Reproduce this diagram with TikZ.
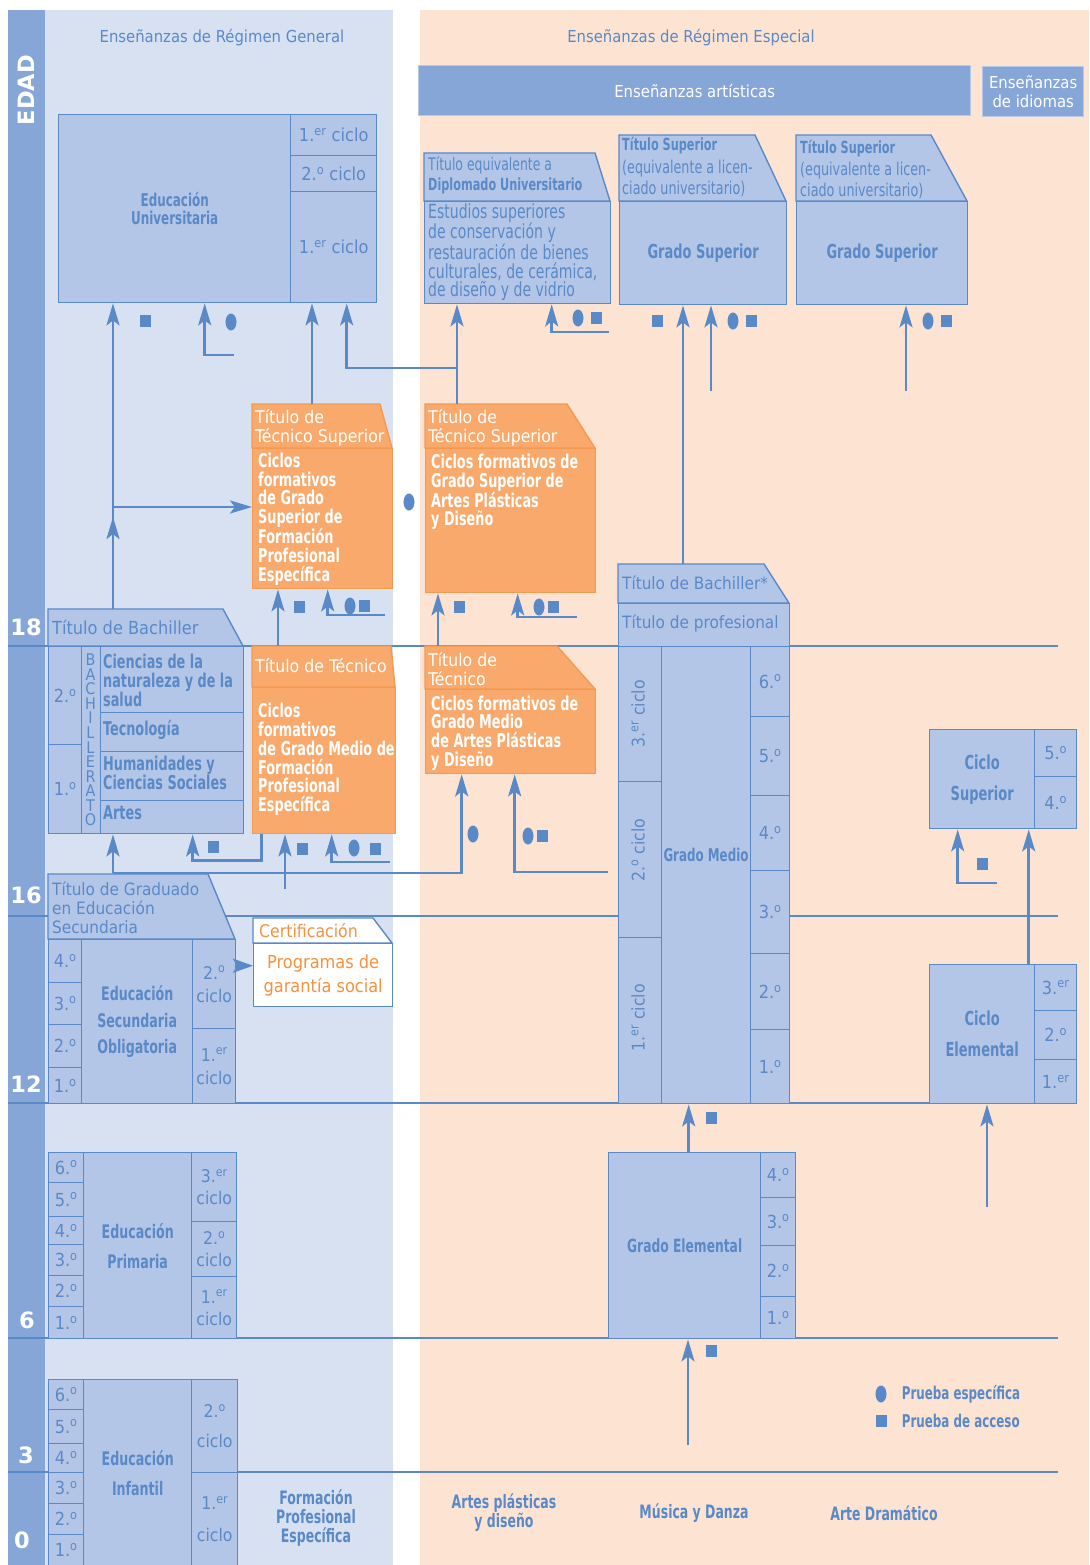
\documentclass[tikz,border=0pt]{standalone}
\usepackage{fontspec}
\setmainfont{DejaVu Sans Condensed}
\newfontfamily\narrowfont[FakeStretch=0.8]{DejaVu Sans Condensed}
\newfontfamily\boldnarrow[FakeStretch=0.75]{DejaVu Sans Condensed Bold}
\newfontfamily\agefont{DejaVu Sans Bold}
\usepackage{xcolor}
\usepackage{tikz}
\usetikzlibrary{shapes.geometric, arrows.meta, positioning}

\definecolor{lineblue}{HTML}{5A89C8}
\definecolor{boxblue}{HTML}{B4C6E7}
\definecolor{genbg}{HTML}{D7E1F1}
\definecolor{espbg}{HTML}{FDE4D2}
\definecolor{edadblue}{HTML}{86A6D7}
\definecolor{orangebox}{HTML}{F8A96B}
\definecolor{orangeline}{HTML}{F39A52}
\definecolor{orangetext}{HTML}{F5923F}

\newcommand{\ordo}{\textsuperscript{o}}

\begin{document}
\begin{tikzpicture}[x=1pt, y=-1pt]
        \tikzstyle{boxcell} = [rectangle, draw=lineblue, fill=boxblue, line width=1.4pt, inner sep=0pt, anchor=north west, text=lineblue, align=center, font=\fontsize{18}{21}\selectfont]
        \tikzstyle{boldcell} = [boxcell, font=\boldnarrow\fontsize{18.5}{19}\selectfont]
        \tikzstyle{tabshape} = [draw=lineblue, fill=boxblue, line width=1.4pt]
        \tikzstyle{orangetab} = [draw=orangeline, fill=orangebox, line width=1.4pt]
        \tikzstyle{orangecell} = [rectangle, draw=orangeline, fill=orangebox, line width=1.4pt, inner sep=0pt, anchor=north west]
        \tikzstyle{txt} = [inner sep=0pt, anchor=west, align=left, text=lineblue, font=\fontsize{17}{19}\selectfont]
        \tikzstyle{boldtxt} = [inner sep=0pt, align=center, text=lineblue, font=\boldnarrow\fontsize{18.5}{19}\selectfont]
        \tikzstyle{boldleft} = [boldtxt, anchor=west, align=left, font=\boldnarrow\fontsize{19}{19}\selectfont]
        \tikzstyle{whitetxt} = [inner sep=0pt, anchor=west, align=left, text=white, font=\fontsize{17.5}{19}\selectfont]
        \tikzstyle{whitebold} = [inner sep=0pt, anchor=west, align=left, text=white, font=\boldnarrow\fontsize{19}{18.7}\selectfont]
        \tikzstyle{regiontitle} = [inner sep=0pt, text=lineblue, font=\fontsize{16.5}{19}\selectfont]
        \tikzstyle{headbox} = [boxcell, fill=edadblue, draw=edadblue!60!white, text=white, font=\fontsize{16.5}{19}\selectfont]
        \tikzstyle{agetxt} = [inner sep=0pt, text=white, font=\agefont\fontsize{22.5}{24}\selectfont]
        \tikzstyle{vert} = [inner sep=0pt, rotate=90, text=lineblue, font=\fontsize{17.5}{19}\selectfont]
        \tikzstyle{letters} = [inner sep=0pt, align=center, text=lineblue, font=\fontsize{16}{14.55}\selectfont]
        \tikzstyle{ageline} = [line width=1.2pt, draw=lineblue]
        \tikzstyle{link} = [line width=2.6pt, draw=lineblue]
        \tikzstyle{arrow} = [link, -{Stealth[length=22pt, width=13pt, inset=5pt]}]
        \tikzstyle{esp} = [ellipse, fill=lineblue, minimum width=11, minimum height=17, inner sep=0pt]
        \tikzstyle{acc} = [rectangle, fill=lineblue, minimum width=11, minimum height=12, inner sep=0pt]

        \useasboundingbox (0,0) rectangle (1089,1565);

        % fondos
        \fill[edadblue] (8,10) rectangle (45,1565);
        \fill[genbg] (45,10) rectangle (393,1565);
        \fill[espbg] (420,10) rectangle (1089,1565);

        % lineas de edad
        \draw[ageline] (8,646) -- (1058,646);
        \draw[ageline] (8,916) -- (1058,916);
        \draw[ageline] (8,1103) -- (1058,1103);
        \draw[ageline] (8,1338) -- (1058,1338);
        \draw[ageline] (8,1472) -- (1058,1472);

        \node[agetxt, rotate=90] (edad) at (26,90) {EDAD};
        \node[agetxt] (a18) at (26,627) {18};
        \node[agetxt] (a16) at (26,895) {16};
        \node[agetxt] (a12) at (26,1084) {12};
        \node[agetxt] (a6) at (27,1320) {6};
        \node[agetxt] (a3) at (26,1455) {3};
        \node[agetxt] (a0) at (22,1540) {0};

        \node[regiontitle] (tgen) at (222,38) {Enseñanzas de Régimen General};
        \node[regiontitle] (tesp) at (691,38) {Enseñanzas de Régimen Especial};
        \node[headbox, minimum width=552, minimum height=50] (artis) at (418,65) {Enseñanzas artísticas};
        \node[headbox, minimum width=101, minimum height=50] (idiom) at (982,66) {Enseñanzas\\de idiomas};

        % universidad
        \node[boldcell, minimum width=232, minimum height=188, font=\boldnarrow\fontsize{17.7}{18}\selectfont] (univ) at (58,114) {Educación\\Universitaria};
        \node[boxcell, minimum width=86, minimum height=41] (u1) at (290,114) {1.\textsuperscript{er} ciclo};
        \node[boxcell, minimum width=86, minimum height=36] (u2) at (290,155) {2.\ordo{} ciclo};
        \node[boxcell, minimum width=86, minimum height=111] (u3) at (290,191) {1.\textsuperscript{er} ciclo};

        % titulo equivalente
        \draw[tabshape] (424,153) -- (595,153) -- (610,201) -- (424,201) -- cycle;
        \node[boxcell, minimum width=186, minimum height=102] (tequiv) at (424,201) {};
        \node[txt, font=\narrowfont\fontsize{17.3}{19}\selectfont] (teq1) at (428,165) {Título equivalente a};
        \node[txt, font=\boldnarrow\fontsize{16.7}{19}\selectfont] (teq2) at (428,186) {Diplomado Universitario};
        \node[txt, font=\narrowfont\fontsize{19.5}{18.7}\selectfont] (teq3) at (428,252) {Estudios superiores\\de conservación y\\restauración de bienes\\culturales, de cerámica,\\de diseño y de vidrio};

        % titulos superiores
        \draw[tabshape] (619,135) -- (755,135) -- (786,201) -- (619,201) -- cycle;
        \node[boldcell, minimum width=167, minimum height=103, font=\boldnarrow\fontsize{19.2}{20}\selectfont] (tsup1) at (619,201) {Grado Superior};
        \node[txt, font=\boldnarrow\fontsize{16.7}{19}\selectfont] (ts1a) at (622,146) {Título Superior};
        \node[txt, font=\narrowfont\fontsize{17.7}{21}\selectfont] (ts1b) at (622,178.5) {(equivalente a licen-\\ciado universitario)};
        \draw[tabshape] (796,135) -- (931,135) -- (967,201) -- (796,201) -- cycle;
        \node[boldcell, minimum width=171, minimum height=103, font=\boldnarrow\fontsize{19.2}{20}\selectfont] (tsup2) at (796,201) {Grado Superior};
        \node[txt, font=\boldnarrow\fontsize{16.7}{19}\selectfont] (ts2a) at (800,149) {Título Superior};
        \node[txt, font=\narrowfont\fontsize{17.7}{21}\selectfont] (ts2b) at (800,180.5) {(equivalente a licen-\\ciado universitario)};

        % ciclos formativos de grado superior
        \draw[orangetab] (252,404) -- (380,404) -- (392,448) -- (252,448) -- cycle;
        \node[orangecell, minimum width=140, minimum height=140] (fp1) at (252,448) {};
        \node[whitetxt] (fp1a) at (255,427.5) {Título de\\Técnico Superior};
        \node[whitebold] (fp1b) at (258,519) {Ciclos\\formativos\\de Grado\\Superior de\\Formación\\Profesional\\Específica};
        \draw[orangetab] (425,404) -- (567,404) -- (595,448) -- (425,448) -- cycle;
        \node[orangecell, minimum width=170, minimum height=144] (fp2) at (425,448) {};
        \node[whitetxt] (fp2a) at (428,427.5) {Título de\\Técnico Superior};
        \node[whitebold] (fp2b) at (431,492) {Ciclos formativos de\\Grado Superior de\\Artes Plásticas\\y Diseño};

        % ciclos formativos de grado medio
        \draw[orangetab] (252,646) -- (391,646) -- (395,687) -- (252,687) -- cycle;
        \node[orangecell, minimum width=143, minimum height=146] (tec1) at (252,687) {};
        \node[whitetxt] (tec1a) at (255,666) {Título de Técnico};
        \node[whitebold] (tec1b) at (258,759.5) {Ciclos\\formativos\\de Grado Medio de\\Formación\\Profesional\\Específica};
        \draw[orangetab] (425,646) -- (557,646) -- (595,689) -- (425,689) -- cycle;
        \node[orangecell, minimum width=170, minimum height=84] (tec2) at (425,689) {};
        \node[whitetxt] (tec2a) at (428,669) {Título de\\Técnico};
        \node[whitebold] (tec2b) at (431,733) {Ciclos formativos de\\Grado Medio\\de Artes Plásticas\\y Diseño};

        % bachillerato
        \draw[tabshape] (48,609) -- (223,609) -- (243,646) -- (48,646) -- cycle;
        \node[txt, font=\fontsize{18}{19}\selectfont] (bacha) at (52,627) {Título de Bachiller};
        \node[boxcell, minimum width=195, minimum height=187] (bach) at (48,646) {};
        \node[boxcell, minimum width=33, minimum height=98] (bach2) at (48,646) {2.\ordo};
        \node[boxcell, minimum width=33, minimum height=89] (bach1) at (48,744) {1.\ordo};
        \node[boxcell, minimum width=19, minimum height=187] (bachcol) at (81,646) {};
        \node[letters] (bachlet) at (90.5,740) {B\\A\\C\\H\\I\\L\\L\\E\\R\\A\\T\\O};
        \node[boxcell, minimum width=143, minimum height=66] (br1) at (100,646) {};
        \node[boxcell, minimum width=143, minimum height=39] (br2) at (100,712) {};
        \node[boxcell, minimum width=143, minimum height=49] (br3) at (100,751) {};
        \node[boxcell, minimum width=143, minimum height=33] (br4) at (100,800) {};
        \node[boldleft] (br1t) at (103,680) {Ciencias de la\\naturaleza y de la\\salud};
        \node[boldleft] (br2t) at (103,730) {Tecnología};
        \node[boldleft] (br3t) at (103,773) {Humanidades y\\Ciencias Sociales};
        \node[boldleft] (br4t) at (103,813) {Artes};

        % educacion secundaria obligatoria
        \draw[tabshape] (48,874) -- (208,874) -- (235,939) -- (48,939) -- cycle;
        \node[txt] (grada) at (52,908) {Título de Graduado\\en Educación\\Secundaria};
        \node[boxcell, minimum width=33, minimum height=43] (eso4) at (48,939) {4.\ordo};
        \node[boxcell, minimum width=33, minimum height=42] (eso3) at (48,982) {3.\ordo};
        \node[boxcell, minimum width=33, minimum height=43] (eso2) at (48,1024) {2.\ordo};
        \node[boxcell, minimum width=33, minimum height=36] (eso1) at (48,1067) {1.\ordo};
        \node[boldcell, minimum width=111, minimum height=164, font=\boldnarrow\fontsize{18.7}{26.5}\selectfont] (eso) at (81,939) {Educación\\Secundaria\\Obligatoria};
        \node[boxcell, minimum width=43, minimum height=89, font=\fontsize{17.5}{23}\selectfont] (esoc2) at (192,939) {2.\ordo\\ciclo};
        \node[boxcell, minimum width=43, minimum height=75, font=\fontsize{17.5}{23}\selectfont] (esoc1) at (192,1028) {1.\textsuperscript{er}\\ciclo};

        % garantia social
        \draw[tabshape, fill=white] (253,918) -- (373,918) -- (392,943) -- (253,943) -- cycle;
        \node[txt, text=orangetext, font=\fontsize{17.5}{19}\selectfont] (certa) at (259,931) {Certificación};
        \node[boxcell, fill=white, text=orangetext, minimum width=139, minimum height=63, font=\fontsize{18}{24}\selectfont] (prog) at (253,943) {Programas de\\garantía social};

        % grado medio (musica y danza)
        \draw[tabshape] (618,564) -- (764,564) -- (789,603) -- (618,603) -- cycle;
        \node[txt] (bstar) at (622,583) {Título de Bachiller*};
        \node[boxcell, minimum width=171, minimum height=43] (prof) at (618,603) {};
        \node[txt] (profa) at (622,623) {Título de profesional};
        \node[boxcell, minimum width=43, minimum height=135] (gmc3) at (618,646) {};
        \node[boxcell, minimum width=43, minimum height=156] (gmc2) at (618,781) {};
        \node[boxcell, minimum width=43, minimum height=166] (gmc1) at (618,937) {};
        \node[vert] (gmc3t) at (638,714) {3.\textsuperscript{er} ciclo};
        \node[vert] (gmc2t) at (638,850) {2.\ordo{} ciclo};
        \node[vert] (gmc1t) at (638,1018) {1.\textsuperscript{er} ciclo};
        \node[boxcell, minimum width=89, minimum height=457] (gmmid) at (661,646) {};
        \node[boldtxt, font=\boldnarrow\fontsize{17.6}{19}\selectfont] (gmt) at (706,855) {Grado Medio};
        \node[boxcell, minimum width=39, minimum height=70] (gm6) at (750,646) {6.\ordo};
        \node[boxcell, minimum width=39, minimum height=79] (gm5) at (750,716) {5.\ordo};
        \node[boxcell, minimum width=39, minimum height=75] (gm4) at (750,795) {4.\ordo};
        \node[boxcell, minimum width=39, minimum height=83] (gm3) at (750,870) {3.\ordo};
        \node[boxcell, minimum width=39, minimum height=76] (gm2) at (750,953) {2.\ordo};
        \node[boxcell, minimum width=39, minimum height=74] (gm1) at (750,1029) {1.\ordo};

        % arte dramatico / danza: ciclos
        \node[boldcell, minimum width=105, minimum height=99, font=\boldnarrow\fontsize{19.3}{31}\selectfont] (csup) at (929,729) {Ciclo\\Superior};
        \node[boxcell, minimum width=42, minimum height=47] (cs5) at (1034,729) {5.\ordo};
        \node[boxcell, minimum width=42, minimum height=52] (cs4) at (1034,776) {4.\ordo};
        \node[boldcell, minimum width=105, minimum height=139, font=\boldnarrow\fontsize{19.3}{31}\selectfont] (celem) at (929,964) {Ciclo\\Elemental};
        \node[boxcell, minimum width=42, minimum height=46] (ce3) at (1034,964) {3.\textsuperscript{er}};
        \node[boxcell, minimum width=42, minimum height=49] (ce2) at (1034,1010) {2.\ordo};
        \node[boxcell, minimum width=42, minimum height=44] (ce1) at (1034,1059) {1.\textsuperscript{er}};

        % grado elemental
        \node[boldcell, minimum width=152, minimum height=186, font=\boldnarrow\fontsize{18.2}{19}\selectfont] (gelem) at (608,1152) {Grado Elemental};
        \node[boxcell, minimum width=35, minimum height=45] (ge4) at (760,1152) {4.\ordo};
        \node[boxcell, minimum width=35, minimum height=48] (ge3) at (760,1197) {3.\ordo};
        \node[boxcell, minimum width=35, minimum height=51] (ge2) at (760,1245) {2.\ordo};
        \node[boxcell, minimum width=35, minimum height=42] (ge1) at (760,1296) {1.\ordo};

        % educacion primaria
        \node[boxcell, minimum width=35, minimum height=30] (pri6) at (48,1152) {6.\ordo};
        \node[boxcell, minimum width=35, minimum height=34] (pri5) at (48,1182) {5.\ordo};
        \node[boxcell, minimum width=35, minimum height=28] (pri4) at (48,1216) {4.\ordo};
        \node[boxcell, minimum width=35, minimum height=31] (pri3) at (48,1244) {3.\ordo};
        \node[boxcell, minimum width=35, minimum height=31] (pri2) at (48,1275) {2.\ordo};
        \node[boxcell, minimum width=35, minimum height=32] (pri1) at (48,1306) {1.\ordo};
        \node[boldcell, minimum width=108, minimum height=186, font=\boldnarrow\fontsize{18.7}{30}\selectfont] (pri) at (83,1152) {Educación\\Primaria};
        \node[boxcell, minimum width=45, minimum height=69, font=\fontsize{17.5}{22}\selectfont] (pric3) at (191,1152) {3.\textsuperscript{er}\\ciclo};
        \node[boxcell, minimum width=45, minimum height=55, font=\fontsize{17.5}{22}\selectfont] (pric2) at (191,1221) {2.\ordo\\ciclo};
        \node[boxcell, minimum width=45, minimum height=62, font=\fontsize{17.5}{22}\selectfont] (pric1) at (191,1276) {1.\textsuperscript{er}\\ciclo};

        % educacion infantil
        \node[boxcell, minimum width=35, minimum height=30] (inf6) at (48,1379) {6.\ordo};
        \node[boxcell, minimum width=35, minimum height=34] (inf5) at (48,1409) {5.\ordo};
        \node[boxcell, minimum width=35, minimum height=29] (inf4) at (48,1443) {4.\ordo};
        \node[boxcell, minimum width=35, minimum height=31] (inf3) at (48,1472) {3.\ordo};
        \node[boxcell, minimum width=35, minimum height=31] (inf2) at (48,1503) {2.\ordo};
        \node[boxcell, minimum width=35, minimum height=31] (inf1) at (48,1534) {1.\ordo};
        \node[boldcell, minimum width=108, minimum height=186, font=\boldnarrow\fontsize{18.7}{30}\selectfont] (inf) at (83,1379) {Educación\\Infantil};
        \node[boxcell, minimum width=46, minimum height=93, font=\fontsize{17.5}{30}\selectfont] (infc2) at (191,1379) {2.\ordo\\ciclo};
        \node[boxcell, minimum width=46, minimum height=93, font=\fontsize{17.5}{32}\selectfont] (infc1) at (191,1472) {1.\textsuperscript{er}\\ciclo};

        % rotulos inferiores
        \node[boldtxt] (fpe) at (316,1518) {Formación\\Profesional\\Específica};
        \node[boldtxt] (apd) at (504,1513) {Artes plásticas\\y diseño};
        \node[boldtxt] (myd) at (694,1513) {Música y Danza};
        \node[boldtxt] (adr) at (884,1513) {Arte Dramático};

        % leyenda
        \node[esp] (legE) at (881,1394) {};
        \node[acc] (legA) at (881,1421) {};
        \node[boldleft, font=\boldnarrow\fontsize{17.6}{19}\selectfont, right=15pt of legE] (legEt) {Prueba específica};
        \node[boldleft, font=\boldnarrow\fontsize{17.6}{19}\selectfont, right=15pt of legA] (legAt) {Prueba de acceso};

        % puntos de partida
        \coordinate (bachtop) at (113,609);
        \coordinate (split) at (113,507);
        \coordinate (univL) at (234,355);
        \coordinate (fp1top) at (312,404);
        \coordinate (fp2top) at (457,404);
        \coordinate (joinD) at (457,368);
        \coordinate (tequivR) at (609,332);
        \coordinate (bstartop) at (683,564);
        \coordinate (g1) at (711,391);
        \coordinate (h1) at (906,391);
        \coordinate (tec1top) at (278,646);
        \coordinate (j1) at (385,615);
        \coordinate (tec2top) at (438,646);
        \coordinate (l1) at (577,617);
        \coordinate (gradtop) at (113,873);
        \coordinate (o1) at (285,889);
        \coordinate (p1) at (390,862);
        \coordinate (r1) at (608,872);
        \coordinate (t1) at (997,883);
        \coordinate (v1) at (987,1207);
        \coordinate (w1) at ([xshift=4]gelem.north);
        \coordinate (x1) at (688,1445);

        % flechas
        \draw[arrow] (bachtop) -- (bachtop |- univ.south);
        \draw[arrow] (bachtop) -- ++(0,-92);
        \draw[arrow] (split) -- (split -| fp1.west);
        \draw[arrow] (univL) -| ([xshift=30]univ.south);
        \draw[arrow] (fp1top) -- (fp1top |- u3.south);
        \draw[arrow] (fp2top) -- (fp2top |- tequiv.south);
        \draw[arrow] (joinD) -| ([xshift=13]u3.south);
        \draw[arrow] (tequivR) -| ([xshift=34]tequiv.south);
        \draw[arrow] (bstartop) -- (bstartop |- tsup1.south);
        \draw[arrow] (g1) -- (g1 |- tsup1.south);
        \draw[arrow] (h1) -- (h1 |- tsup2.south);
        \draw[arrow] (tec1top) -- (tec1top |- fp1.south);
        \draw[arrow] (j1) -| ([xshift=5]fp1.south);
        \draw[arrow] (tec2top) -- (tec2top |- fp2.south);
        \draw[arrow] (l1) -| ([xshift=7]fp2.south);
        \draw[arrow] (gradtop) -- (gradtop |- bach.south);
        \draw[arrow] ([xshift=-62.5]tec1.south) -- ++(0,26) -| ([xshift=46.5]bach.south);
        \draw[arrow] (o1) -- (o1 |- tec1.south);
        \draw[arrow] (p1) -| ([xshift=7.5]tec1.south);
        \draw[arrow] (gradtop) -| ([xshift=-49]tec2.south);
        \draw[arrow] (r1) -| ([xshift=4]tec2.south);
        \draw[arrow, -{Stealth[length=20pt, width=14pt, inset=4pt]}] ([yshift=18.5]esoc2.east) -- ([yshift=18.5]esoc2.east -| prog.west);
        \draw[arrow] (t1) -| ([xshift=-24.5]csup.south);
        \draw[arrow] ([xshift=46.5]celem.north) -- ([xshift=46.5]csup.south);
        \draw[arrow] (v1) -- (v1 |- celem.south);
        \draw[arrow] (w1) -- (w1 |- gmmid.south);
        \draw[arrow] (x1) -- (x1 |- gelem.south);

        % pruebas
        \node[acc] (m1) at (145,321) {};
        \node[esp] (m2) at (231,322) {};
        \node[esp] (m3) at (578,318) {};
        \node[acc] (m4) at (596,318) {};
        \node[acc] (m5) at (657,321) {};
        \node[esp] (m6) at (733,321) {};
        \node[acc] (m7) at (751,321) {};
        \node[esp] (m8) at (928,321) {};
        \node[acc] (m9) at (946,321) {};
        \node[esp] (m10) at (409,502) {};
        \node[acc] (m11) at (299,607) {};
        \node[esp] (m12) at (350,606) {};
        \node[acc] (m13) at (364,606) {};
        \node[acc] (m14) at (459,607) {};
        \node[esp] (m15) at (539,607) {};
        \node[acc] (m16) at (553,607) {};
        \node[acc] (m17) at (213,847) {};
        \node[acc] (m18) at (302,849) {};
        \node[esp] (m19) at (354,848) {};
        \node[acc] (m20) at (375,849) {};
        \node[esp] (m21) at (473,834) {};
        \node[esp] (m22) at (528,836) {};
        \node[acc] (m23) at (542,836) {};
        \node[acc] (m24) at (982,864) {};
        \node[acc] (m25) at (711,1118) {};
        \node[acc] (m26) at (711,1351) {};
\end{tikzpicture}
\end{document}
